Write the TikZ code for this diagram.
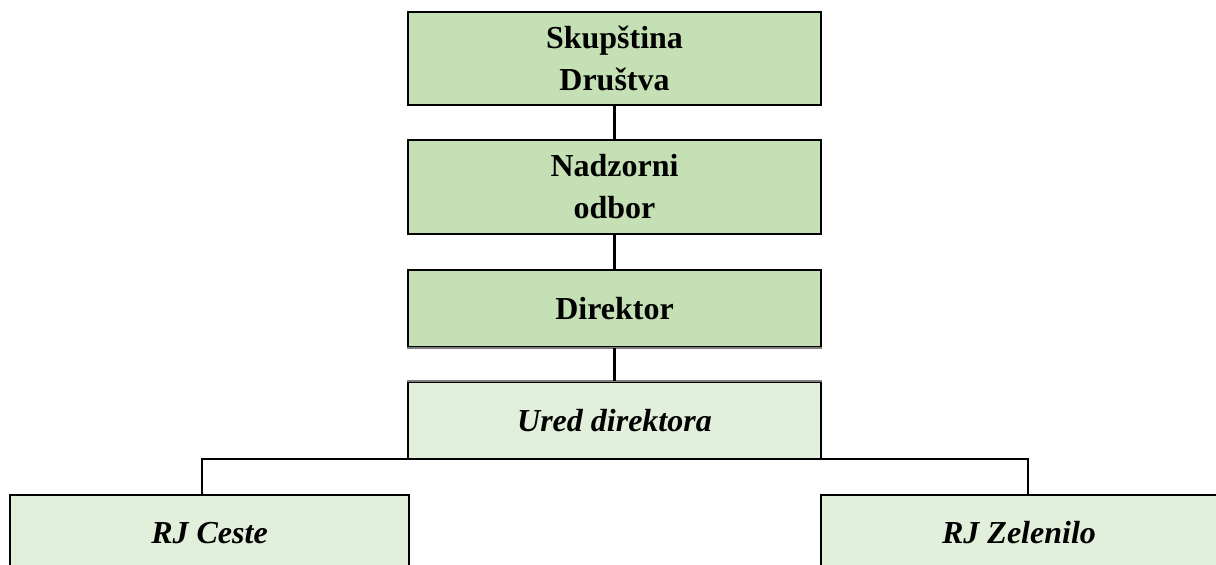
\documentclass[tikz,border=0pt]{standalone}
\usepackage{fontspec}
\setmainfont{Liberation Serif}
\definecolor{dkgreen}{HTML}{C5E0B4}
\definecolor{ltgreen}{HTML}{E2EFDA}
\definecolor{edgegray}{HTML}{7F7F7F}
\begin{document}
\begin{tikzpicture}[x=1pt,y=-1pt,
  box/.style={draw=black, line width=2.2pt, fill=dkgreen, minimum width=413pt,
    align=center, inner sep=0pt, font=\fontsize{32}{42}\selectfont\bfseries},
  lbox/.style={box, fill=ltgreen, font=\fontsize{32}{42}\selectfont\bfseries\itshape},
  ubox/.style={draw=black, line width=2.2pt, fill=ltgreen, anchor=north,
    inner xsep=0pt, inner ysep=24pt, text height=24pt, text depth=80pt,
    font=\fontsize{32}{42}\selectfont\bfseries\itshape},
  conn/.style={draw=black, line width=2.2pt},
  grayedge/.style={draw=edgegray, line width=2.2pt}]
\useasboundingbox (0,0) rectangle (1216,565);
\clip (0,0) rectangle (1216,565);
\node[box, minimum height=93pt] (sk) at (614.5,58.5) {Skupština\\Društva};
\node[box, minimum height=94pt] (nad) at (614.5,187) {Nadzorni\\odbor};
\node[box, minimum height=77pt] (dir) at (614.5,308.5) {Direktor};
\node[lbox, minimum height=77pt] (ured) at (614.5,420.5) {Ured direktora};
\node[ubox, minimum width=399pt] (ceste) at (209.5,494) {RJ Ceste};
\node[ubox, minimum width=396pt] (zel) at (1019,494) {RJ Zelenilo};
\draw[grayedge] (dir.south west) -- (dir.south east);
\draw[grayedge] (ured.north west) -- (ured.north east);
\draw[conn] (sk.south) -- (nad.north);
\draw[conn] (nad.south) -- (dir.north);
\draw[conn] (dir.south) -- (ured.north);
\coordinate (lc) at (202,459);
\coordinate (rc) at (1028,459);
\draw[conn] (lc |- ceste.north) -- (lc) -- (rc) -- (rc |- zel.north);
\end{tikzpicture}
\end{document}
